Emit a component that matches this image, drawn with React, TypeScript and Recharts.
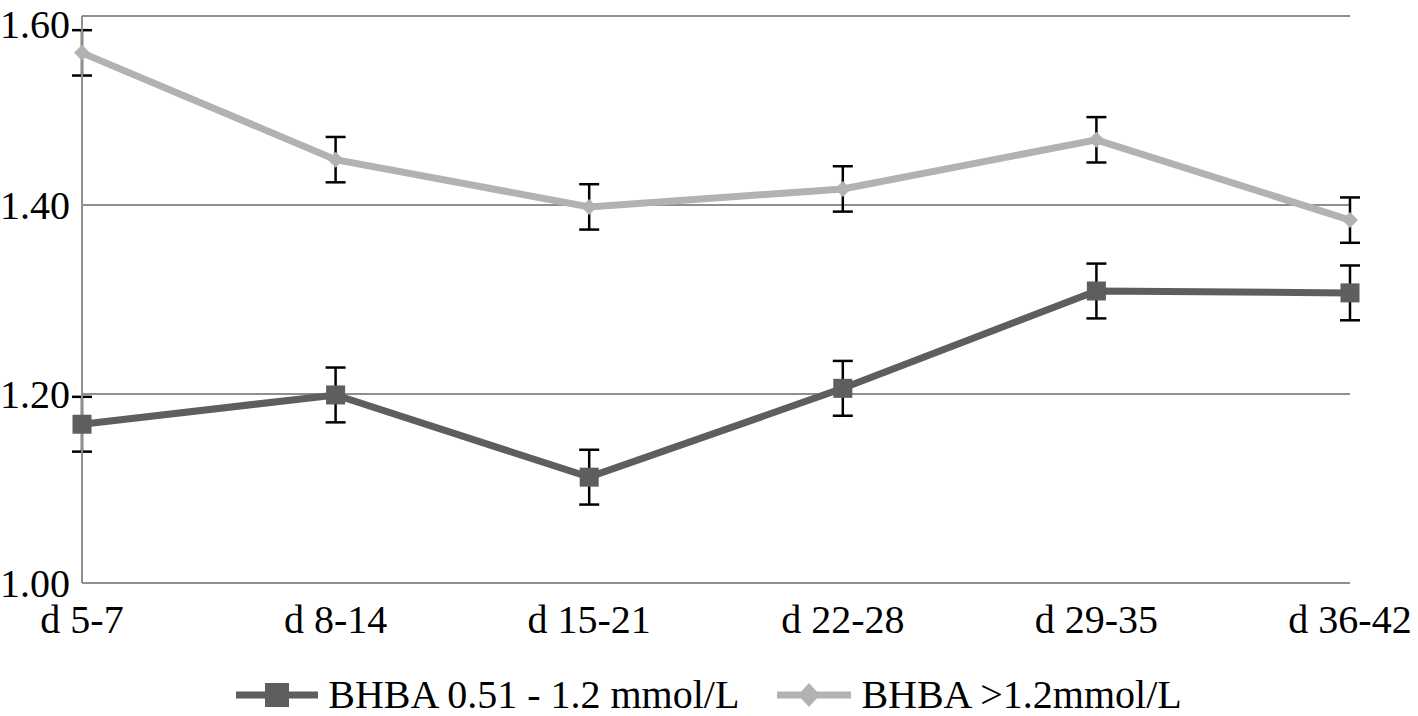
import React from "react"
import { LineChart, Line, XAxis, YAxis, CartesianGrid, Legend, ErrorBar } from "recharts"

const periods = ["d 5-7", "d 8-14", "d 15-21", "d 22-28", "d 29-35", "d 36-42"]
const moderate = [1.168, 1.199, 1.112, 1.206, 1.309, 1.307]
const moderateErr = [0.029, 0.029, 0.029, 0.029, 0.029, 0.029]
const high = [1.561, 1.448, 1.398, 1.417, 1.469, 1.384]
const highErr = [0.024, 0.024, 0.024, 0.024, 0.024, 0.024]
const yTicks = [1.0, 1.2, 1.4, 1.6]

const seriesNames = ["BHBA 0.51 - 1.2 mmol/L", "BHBA >1.2mmol/L"]

const DARK = "#5e5e5e"
const LIGHT = "#b2b2b2"
const GRID = "#8f8f8f"
const FONT = '"Liberation Serif", "Times New Roman", serif'

const data = periods.map((p, i) => ({
  period: p,
  moderate: moderate[i],
  moderateErr: moderateErr[i],
  high: high[i],
  highErr: highErr[i],
}))

// квадратный маркер для тёмной линии
const SquareDot = (props: any) => {
  const { cx, cy } = props
  if (cx == null || cy == null) return null
  return <rect x={cx - 9.5} y={cy - 9.5} width={19} height={19} fill={DARK} />
}

// ромб для светлой линии
const DiamondDot = (props: any) => {
  const { cx, cy } = props
  if (cx == null || cy == null) return null
  const r = 8
  return <polygon points={`${cx},${cy - r} ${cx + r},${cy} ${cx},${cy + r} ${cx - r},${cy}`} fill={LIGHT} />
}

const CustomLegend = () => (
  <div
    style={{
      height: 73,
      display: "flex",
      justifyContent: "center",
      alignItems: "flex-start",
      paddingTop: 30,
      boxSizing: "border-box",
      fontFamily: FONT,
      fontSize: 40,
      color: "#000",
      lineHeight: "44px",
    }}
  >
    <div style={{ display: "flex", alignItems: "center", marginRight: 38 }}>
      <svg width={82} height={30} style={{ marginRight: 10 }}>
        <line x1={0} y1={15} x2={82} y2={15} stroke={DARK} strokeWidth={7} />
        <rect x={29} y={3} width={24} height={24} fill={DARK} />
      </svg>
      <span>{seriesNames[0]}</span>
    </div>
    <div style={{ display: "flex", alignItems: "center" }}>
      <svg width={74} height={30} style={{ marginRight: 10 }}>
        <line x1={0} y1={15} x2={74} y2={15} stroke={LIGHT} strokeWidth={7} />
        <polygon points="32,3 43,15 32,27 21,15" fill={LIGHT} />
      </svg>
      <span>{seriesNames[1]}</span>
    </div>
  </div>
)

export default function App() {
  return (
    <div style={{ position: "absolute", left: 0, top: 0, background: "#fff" }}>
      {/* усы у первой точки не должны обрезаться по краю области графика */}
      <style>{`
        .recharts-wrapper [clip-path] { clip-path: none !important; }
        .recharts-wrapper svg { overflow: visible !important; }
      `}</style>
      <LineChart width={1418} height={716} data={data} margin={{ top: 16, right: 68, left: 0, bottom: 0 }}>
        <CartesianGrid vertical={false} stroke={GRID} strokeWidth={2} />
        <XAxis
          dataKey="period"
          axisLine={{ stroke: GRID, strokeWidth: 2 }}
          tickLine={false}
          tickSize={0}
          tickMargin={22}
          height={60}
          interval={0}
          tick={{ fontSize: 40, fill: "#000", fontFamily: FONT }}
        />
        <YAxis
          domain={[1, 1.6]}
          ticks={yTicks}
          width={82}
          axisLine={{ stroke: GRID, strokeWidth: 2 }}
          tickLine={false}
          tickSize={0}
          tickMargin={12}
          tickFormatter={(v: number) => v.toFixed(2)}
          tick={{ fontSize: 40, fill: "#000", fontFamily: FONT }}
        />
        <Legend
          verticalAlign="bottom"
          align="center"
          wrapperStyle={{ left: 0, width: 1418 }}
          content={<CustomLegend />}
        />
        <Line
          dataKey="moderate"
          stroke={DARK}
          strokeWidth={7}
          type="linear"
          dot={<SquareDot />}
          activeDot={false}
          isAnimationActive={false}
        />
        <Line
          dataKey="high"
          stroke={LIGHT}
          strokeWidth={7}
          type="linear"
          dot={<DiamondDot />}
          activeDot={false}
          isAnimationActive={false}
        />
        {/* отдельные невидимые линии, чтобы усы рисовались поверх маркеров */}
        <Line dataKey="moderate" stroke="none" dot={false} activeDot={false} legendType="none" isAnimationActive={false}>
          <ErrorBar dataKey="moderateErr" width={10} stroke="#000" strokeWidth={2.5} direction="y" isAnimationActive={false} />
        </Line>
        <Line dataKey="high" stroke="none" dot={false} activeDot={false} legendType="none" isAnimationActive={false}>
          <ErrorBar dataKey="highErr" width={10} stroke="#000" strokeWidth={2.5} direction="y" isAnimationActive={false} />
        </Line>
      </LineChart>
    </div>
  )
}
